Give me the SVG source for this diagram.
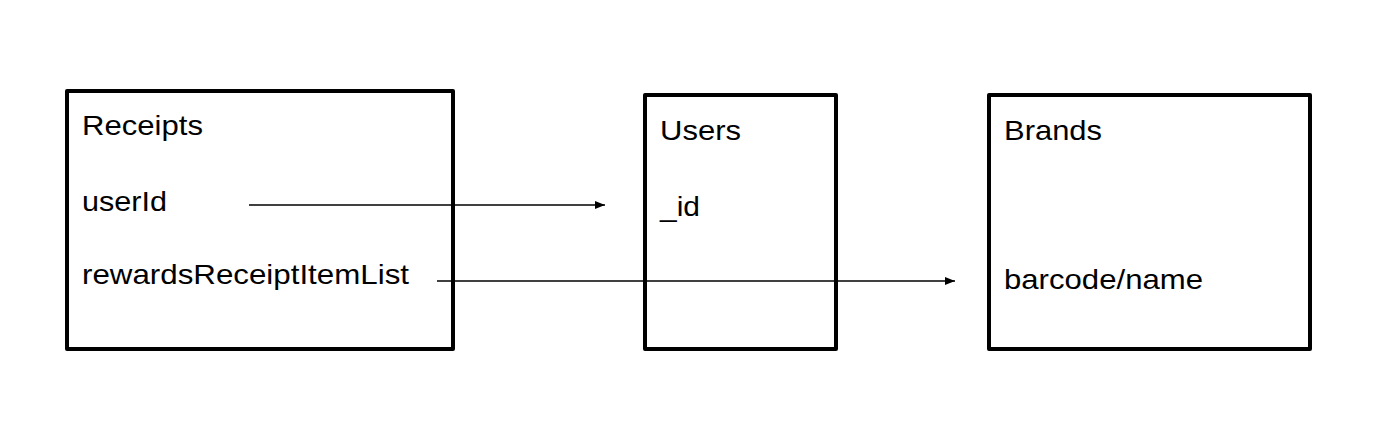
<svg xmlns="http://www.w3.org/2000/svg" width="1384" height="430" viewBox="0 0 1384 430">
<style>
.box{fill:#ffffff;stroke:#000000;stroke-width:4;stroke-linejoin:round}
.t{font-family:"Liberation Sans",Arial,sans-serif;font-size:28px;fill:#000000}
.conn{stroke:#000000;stroke-width:1.5;fill:none}
</style>
<defs>
<marker id="arr" markerWidth="10" markerHeight="8" refX="10" refY="4" orient="auto" markerUnits="userSpaceOnUse">
<path d="M0,0 L10,4 L0,8 Z" fill="#000000"/>
</marker>
</defs>
<rect x="0" y="0" width="1384" height="430" fill="#ffffff"/>
<g id="receipts">
<rect class="box" x="67" y="91" width="386" height="258"/>
<text class="t" x="82" y="135" textLength="121" lengthAdjust="spacingAndGlyphs">Receipts</text>
<text class="t" x="82" y="211" textLength="85" lengthAdjust="spacingAndGlyphs">userId</text>
<text class="t" x="82" y="284" textLength="327" lengthAdjust="spacingAndGlyphs">rewardsReceiptItemList</text>
</g>
<g id="users">
<rect class="box" x="645" y="95" width="191" height="254"/>
<text class="t" x="660" y="140" textLength="81" lengthAdjust="spacingAndGlyphs">Users</text>
<text class="t" x="660" y="216" textLength="40" lengthAdjust="spacingAndGlyphs">_id</text>
</g>
<g id="brands">
<rect class="box" x="989" y="95" width="321" height="254"/>
<text class="t" x="1004" y="140" textLength="98" lengthAdjust="spacingAndGlyphs">Brands</text>
<text class="t" x="1004" y="289" textLength="199" lengthAdjust="spacingAndGlyphs">barcode/name</text>
</g>
<g id="connectors">
<line class="conn" x1="249" y1="205" x2="605" y2="205" marker-end="url(#arr)"/>
<line class="conn" x1="437" y1="281" x2="955" y2="281" marker-end="url(#arr)"/>
</g>
</svg>
